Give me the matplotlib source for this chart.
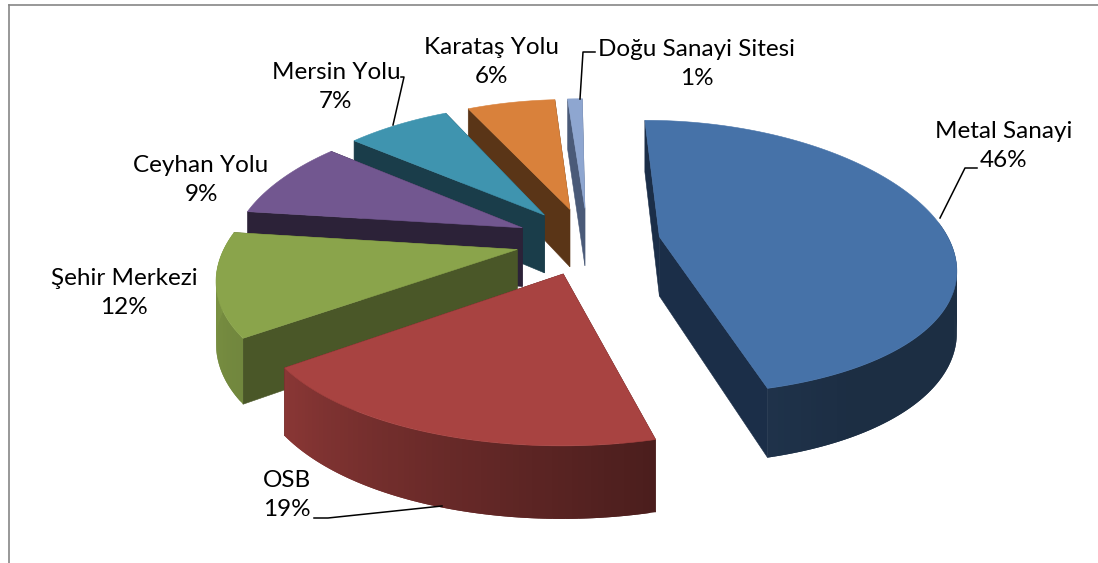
import numpy as np
import matplotlib
matplotlib.use('Agg')
import matplotlib.pyplot as plt
from matplotlib.patches import Polygon

labels = ['Metal Sanayi', 'OSB', 'Şehir Merkezi', 'Ceyhan Yolu', 'Mersin Yolu', 'Karataş Yolu', 'Doğu Sanayi Sitesi']
values = [46, 19, 12, 9, 7, 6, 1]
top_colors = ['#4672a8', '#a84341', '#8aa44b', '#725790', '#3f94af', '#d9813b', '#8ea6d0']
wall_colors = ['#1b2e48', '#4c1c1a', '#4a5728', '#2c2238', '#1a3d4a', '#5a3517', '#4a5a78']
draw_order = [6, 5, 4, 3, 2, 0, 1]

# camera / layout, all in pixels of the 1098x563 picture
cx, cy = 588, 241
vanish_x = 568
Rx, Ry = 290, 297
tilt_s = 0.455
tilt_c = np.sqrt(1 - tilt_s**2)
persp_x = 0.19
persp_y = 0.15
explode = 0.25
thick = 0.225


def project(x, y, z):
    fx = 1 / (1 + persp_x * y)
    fy = 1 / (1 + persp_y * y)
    return vanish_x + (cx - vanish_x + Rx * x) * fx, cy - Ry * (y * tilt_s + z * tilt_c) * fy


def pts(x, y, z):
    sx, sy = project(np.asarray(x, float), np.asarray(y, float), np.asarray(z, float) * np.ones_like(x, float))
    return np.column_stack([sx, sy])


def side_shade(a):
    # left of the pie is lit, right is dark
    return np.interp(a, [90, 150, 165, 234, 280], [0.40, 0.40, 0.44, 0.82, 0.92])


fig = plt.figure(figsize=(10.98, 5.63), dpi=100)
ax = fig.add_axes([0, 0, 1, 1])
ax.set_xlim(0, 1098)
ax.set_ylim(563, 0)
ax.axis('off')

# frame of the chart, runs off the picture at the bottom and right
ax.plot([8.5, 8.5], [563, 4.5], color='#868686', lw=1.2)
ax.plot([8.5, 1098], [4.5, 4.5], color='#868686', lw=1.2)

edges = np.cumsum([0] + values) / sum(values) * 360

for i in draw_order:
    a0, a1 = edges[i], edges[i + 1]
    mid = np.radians((a0 + a1) / 2)
    ox, oy = explode * np.sin(mid), explode * np.cos(mid)
    aa = np.linspace(a0, a1, max(int(a1 - a0) + 2, 4))
    ar = np.radians(aa)
    ax_x = ox + np.sin(ar)
    ax_y = oy + np.cos(ar)
    top_arc = pts(ax_x, ax_y, 0)
    bot_arc = pts(ax_x, ax_y, -thick)
    apex_t = pts([ox], [oy], 0)[0]
    apex_b = pts([ox], [oy], -thick)[0]
    zb = 5 + draw_order.index(i) * 5
    # the two cut faces
    for end_t, end_b in [(top_arc[0], bot_arc[0]), (top_arc[-1], bot_arc[-1])]:
        ax.add_patch(Polygon([apex_t, end_t, end_b, apex_b], closed=True, fc=wall_colors[i], ec=wall_colors[i], lw=0.4, zorder=zb))
    # outer rim, only the part facing the viewer, strips overlap so no seams show
    base = np.array(matplotlib.colors.to_rgb(top_colors[i]))
    for k in range(len(aa) - 1):
        if np.cos(np.radians(aa[k])) > 0.1 and np.cos(np.radians(aa[k + 1])) > 0.1:
            continue
        c = base * side_shade((aa[k] + aa[k + 1]) / 2)
        k2 = min(k + 2, len(aa) - 1)
        ax.add_patch(Polygon([top_arc[k], top_arc[k2], bot_arc[k2], bot_arc[k]], closed=True, fc=c, ec='none', zorder=zb + 1))
    ax.add_patch(Polygon(np.vstack([apex_t, top_arc]), closed=True, fc=top_colors[i], ec=top_colors[i], lw=0.4, zorder=zb + 2))

# data labels: name on top, share below
label_pos = [(1004, 146), (287, 495), (124, 293), (201, 180), (336, 87), (492, 62), (697, 64)]
for name, v, (x, y) in zip(labels, values, label_pos):
    ax.text(x, y, f'{name}\n{v}%', ha='center', va='center', fontsize=17.5, family='Lato', color='black', linespacing=1.5, zorder=60)

# leader lines
leaders = [
    ([940, 965, 977], [218, 168, 168]),
    ([314, 328, 442], [518, 518, 506]),
    ([393, 404, 401], [125, 77, 77]),
    ([580, 583, 595], [99, 52, 52]),
]
for lx, ly in leaders:
    ax.plot(lx, ly, color='black', lw=1.1, zorder=59)

fig.savefig('out.png', dpi=100)
plt.close()
